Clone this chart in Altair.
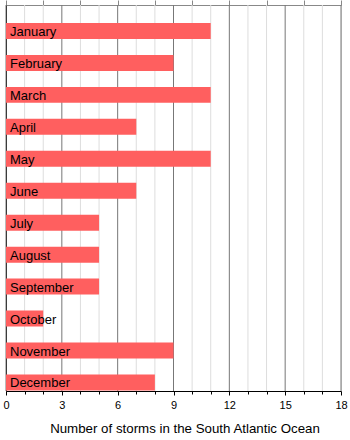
import altair as alt
import pandas as pd

months = ["January", "February", "March", "April", "May", "June", "July",
          "August", "September", "October", "November", "December"]
storms = [11, 9, 11, 7, 11, 7, 5, 5, 5, 2, 9, 8]
major_ticks = [0, 3, 6, 9, 12, 15, 18]
minor_ticks = [1, 2, 4, 5, 7, 8, 10, 11, 13, 14, 16, 17]

df = pd.DataFrame({"month": months, "storms": storms})
major_df = pd.DataFrame({"v": major_ticks})
minor_df = pd.DataFrame({"v": minor_ticks})

FONT = "Liberation Sans"

xscale = alt.Scale(domain=[0, 18], nice=False, zero=True)
yscale = alt.Scale(domain=months, paddingInner=0.5, paddingOuter=0.29, align=0.97)

major_axis = alt.Axis(
    orient="bottom",
    values=major_ticks,
    title="Number of storms in the South Atlantic Ocean",
    titleFont=FONT, titleFontSize=13.3, titleFontWeight="normal", titleColor="black",
    titlePadding=11, titleX=178.5,
    labelFont=FONT, labelFontSize=11, labelColor="black",
    labelOverlap=False, labelFlush=False, labelPadding=4,
    grid=False, tickColor="black", tickSize=4, domainColor="black",
)
minor_axis = alt.Axis(
    orient="bottom",
    values=minor_ticks, title=None, labels=False, grid=False,
    tickColor="black", tickSize=3, domain=False,
)

minor_grid = alt.Chart(minor_df).mark_rule(color="#dddddd", strokeWidth=1).encode(
    x=alt.X("v:Q", scale=xscale, axis=minor_axis),
)
major_grid = alt.Chart(major_df).mark_rule(color="#777777", strokeWidth=1).encode(
    x=alt.X("v:Q", scale=xscale, axis=None),
)

bars = alt.Chart(df).mark_bar(color="#ff5f5f").encode(
    x=alt.X("storms:Q", scale=xscale, axis=major_axis),
    y=alt.Y("month:N", scale=yscale, sort=months,
            axis=alt.Axis(title=None, labels=False, ticks=False, domainColor="black", grid=False)),
)

labels = alt.Chart(df).mark_text(align="left", baseline="middle", dx=4, dy=1,
                                  font=FONT, fontSize=13, color="black").encode(
    x=alt.datum(0),
    y=alt.Y("month:N", scale=yscale, sort=months),
    text="month:N",
)

chart = alt.layer(minor_grid, major_grid, bars, labels).resolve_axis(x="independent").properties(
    width=335, height=386,
    autosize=alt.AutoSizeParams(type="none"),
    padding={"left": 6, "top": 5, "right": 9, "bottom": 49},
).configure_view(stroke=None).configure(background="white")

chart.save("out.html", embed_options={"renderer": "svg", "actions": False})
